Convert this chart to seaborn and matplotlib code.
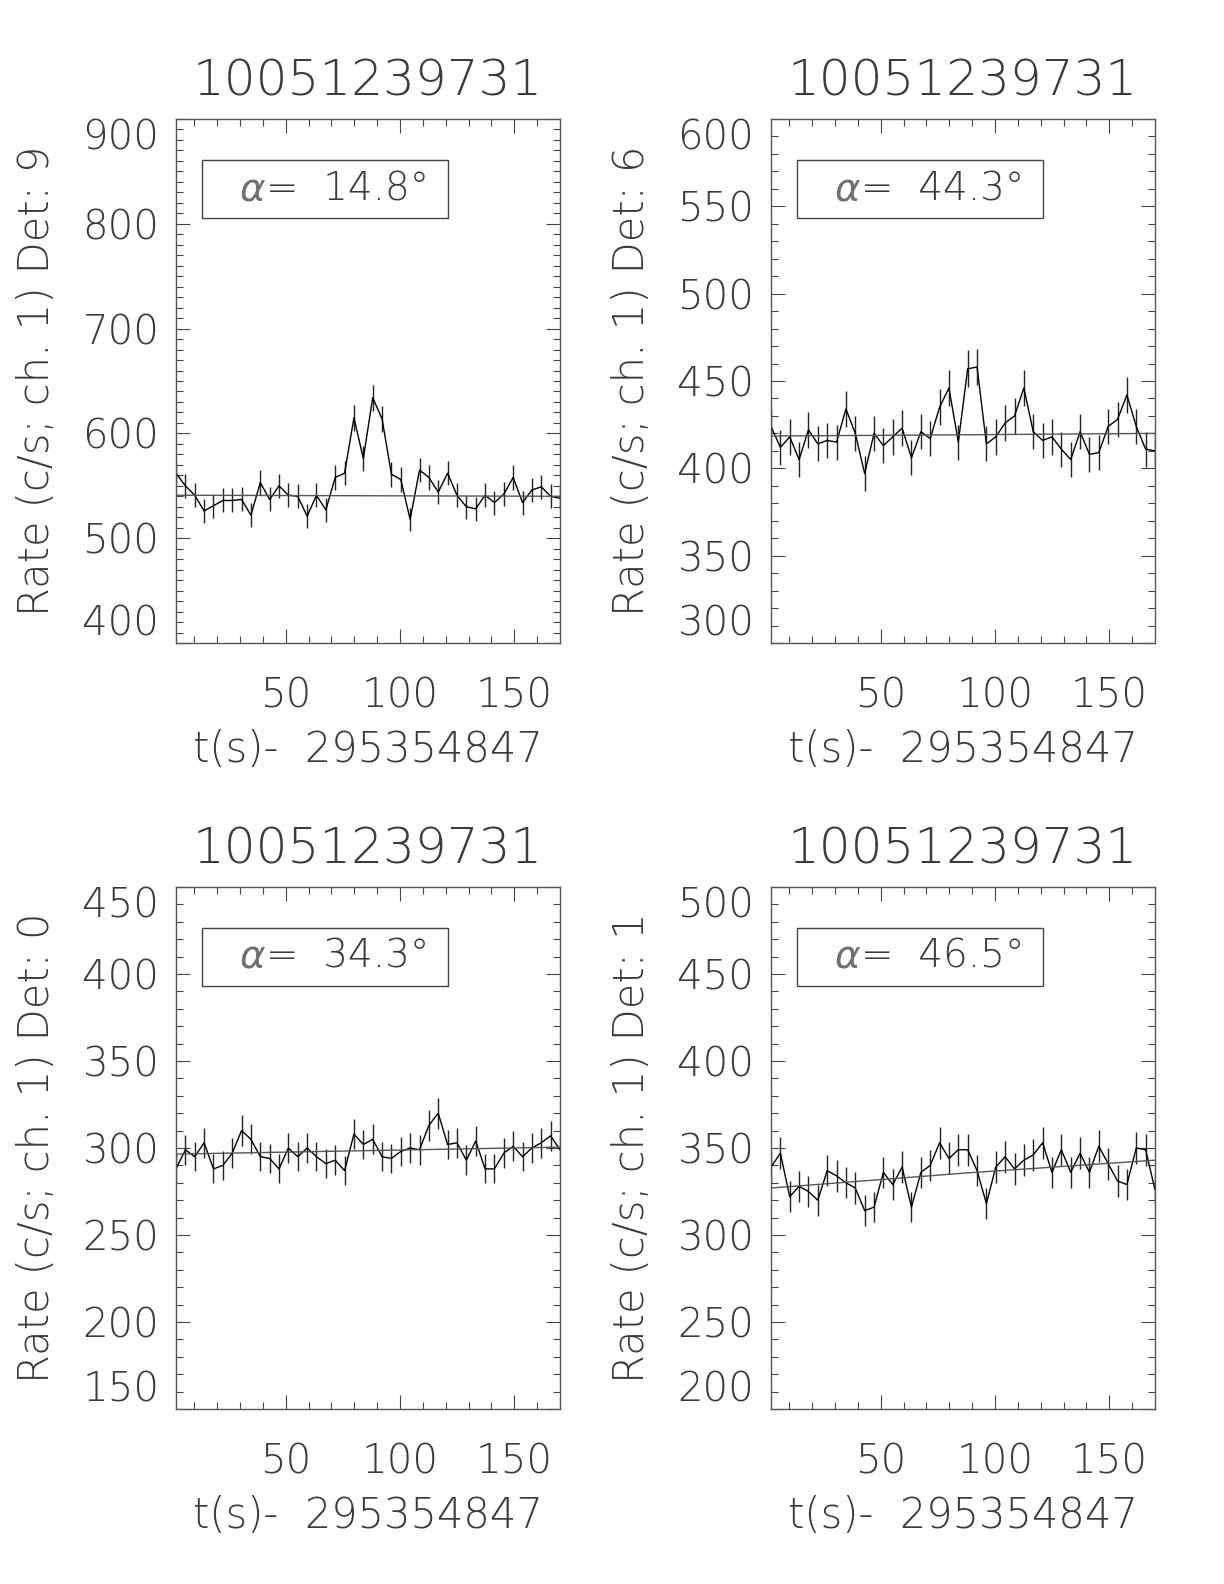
import numpy as np
import seaborn as sns
import matplotlib
matplotlib.use('Agg')
from matplotlib import pyplot as plt
from matplotlib.patches import Rectangle
from matplotlib.ticker import MultipleLocator

# time bins (s) relative to 295354847
t = [2.05, 6.15, 10.24, 14.34, 18.43, 22.53, 26.63, 30.72, 34.82, 38.91,
     43.01, 47.11, 51.20, 55.30, 59.39, 63.49, 67.59, 71.68, 75.78, 79.87,
     83.97, 88.07, 92.16, 96.26, 100.35, 104.45, 108.55, 112.64, 116.74, 120.83,
     124.93, 129.03, 133.12, 137.22, 141.31, 145.41, 149.51, 153.60, 157.70, 161.79,
     165.89, 169.99]
binsize = 4.096

rate_det9 = [562, 550, 541, 526, 531, 536, 536, 537, 522, 553,
             537, 550, 541, 540, 521, 541, 527, 558, 562, 615,
             576, 634, 614, 561, 556, 518, 565, 558, 544, 562,
             541, 530, 528, 541, 534, 542, 558, 534, 546, 549,
             540, 538]
rate_det6 = [424, 412, 418, 405, 422, 414, 416, 415, 434, 420,
             397, 420, 413, 418, 423, 406, 421, 417, 435, 446,
             415, 457, 458, 414, 418, 426, 430, 446, 421, 416,
             418, 411, 405, 421, 408, 409, 424, 428, 442, 424,
             411, 410]
rate_det0 = [288, 299, 295, 303, 288, 290, 297, 310, 305, 295,
             294, 288, 300, 295, 300, 295, 291, 293, 287, 308,
             302, 305, 295, 294, 298, 300, 299, 313, 320, 302,
             303, 293, 304, 288, 288, 297, 301, 295, 300, 303,
             307, 299]
rate_det1 = [339, 347, 322, 328, 325, 320, 337, 334, 330, 327,
             314, 316, 336, 329, 339, 316, 336, 340, 353, 344,
             349, 349, 337, 318, 339, 345, 338, 343, 346, 353,
             336, 349, 336, 347, 336, 351, 341, 331, 329, 350,
             349, 326]

# background fit at start / middle / end of the window
fit_t = [2.05, 86.0, 169.99]
fit_det9 = [541, 540.5, 540]
fit_det6 = [418.5, 419.2, 420]
fit_det0 = [296.5, 298.5, 300.5]
fit_det1 = [327, 335.5, 343]

dets = [9, 6, 0, 1]
alphas = [14.8, 44.3, 34.3, 46.5]
rates = [rate_det9, rate_det6, rate_det0, rate_det1]
fits = [fit_det9, fit_det6, fit_det0, fit_det1]
ylims = [(400, 900), (300, 600), (150, 450), (200, 500)]
ymajor = [100, 50, 50, 50]
title = '10051239731'
xlabel = 't(s)-  295354847'

if __name__ == '__main__':
    sns.set_style('ticks')
    plt.rcParams['font.family'] = ['DejaVu Sans']
    plt.rcParams['font.weight'] = 200
    plt.rcParams['mathtext.fontset'] = 'dejavusans'
    txt = '#3a3a3a'

    fig = plt.figure(figsize=(12.24, 15.84), dpi=100)
    W, H = 1224, 1584
    rects = [(176, 119, 384, 524), (771, 119, 384, 524),
             (176, 887, 384, 522), (771, 887, 384, 522)]

    for k in range(4):
        x0, y0, w, h = rects[k]
        ax = fig.add_axes([x0 / W, 1 - (y0 + h) / H, w / W, h / H])
        r = np.array(rates[k], dtype=float)
        err = np.sqrt(r * binsize) / binsize

        ax.vlines(t, r - err, r + err, color='#222222', lw=1.0)
        sns.lineplot(x=t, y=r, ax=ax, color='black', lw=1.0, sort=False)
        sns.lineplot(x=fit_t, y=fits[k], ax=ax, color='#555555', lw=1.0, sort=False)

        ax.set_xlim(t[0], t[-1])
        ax.set_ylim(*ylims[k])
        ax.xaxis.set_major_locator(MultipleLocator(50))
        ax.xaxis.set_minor_locator(MultipleLocator(10))
        ax.yaxis.set_major_locator(MultipleLocator(ymajor[k]))
        ax.yaxis.set_minor_locator(MultipleLocator(10))
        ax.tick_params(which='both', direction='in', top=True, right=True,
                       color='#444444', width=0.8)
        ax.tick_params(which='major', length=10)
        ax.tick_params(which='minor', length=5)
        ax.tick_params(axis='x', which='major', pad=24, labelsize=29, labelcolor=txt)
        ax.tick_params(axis='y', which='major', pad=12, labelsize=29, labelcolor=txt)
        for s in ax.spines.values():
            s.set_color('#555555')
            s.set_linewidth(1.0)

        # IDL keeps the end labels inside the axis height
        locs = ax.yaxis.get_majorticklocs()
        for loc, tick in zip(locs, ax.yaxis.get_major_ticks(len(locs))):
            if np.isclose(loc, ylims[k][1]):
                tick.label1.set_va('top')
            elif np.isclose(loc, ylims[k][0]):
                tick.label1.set_va('bottom')
            else:
                tick.label1.set_va('center_baseline')

        ax.set_title(title, fontsize=36, color=txt, pad=17, fontweight=200)
        ax.set_xlabel(xlabel, fontsize=30, color=txt, labelpad=10, fontweight=200)
        ax.set_ylabel(f'Rate (c/s; ch. 1) Det: {dets[k]}', fontsize=30,
                      color=txt, labelpad=18, fontweight=200)

        ax.add_patch(Rectangle((0.068, 0.811), 0.64, 0.111, transform=ax.transAxes,
                               fill=False, ec='#444444', lw=1.0))
        ax.text(0.20, 0.866, r'$\alpha$', transform=ax.transAxes,
                ha='center', va='center', fontsize=28, color='#707070')
        ax.text(0.235, 0.866, f'=  {alphas[k]:.1f}°', transform=ax.transAxes,
                ha='left', va='center', fontsize=28, color=txt, fontweight=200)

    fig.savefig('out.png', dpi=100, facecolor='white')
